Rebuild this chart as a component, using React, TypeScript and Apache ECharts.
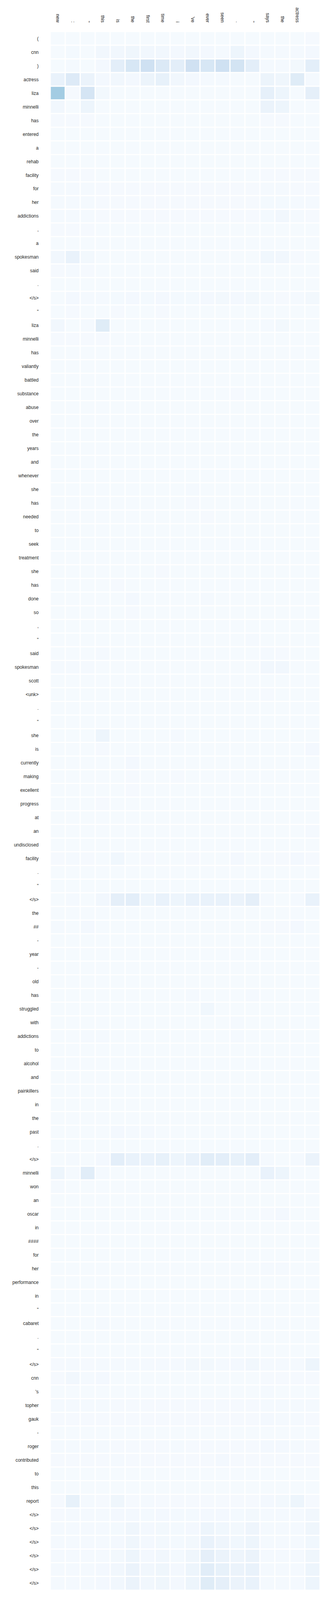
import React, { useEffect, useRef } from "react";
import * as echarts from "echarts";

// target tokens (columns, left to right)
const colLabels = [
  "new", ":", "\"", "this", "is", "the", "first", "time", "i", "'ve",
  "ever", "seen", ".", "\"", "says", "the", "actress", "",
];

// source tokens (rows, top to bottom)
const rowLabels = [
  "(", "cnn", ")", "actress", "liza", "minnelli", "has", "entered", "a", "rehab",
  "facility", "for", "her", "addictions", ",", "a", "spokesman", "said", ".", "</s>",
  "\"", "liza", "minnelli", "has", "valiantly", "battled", "substance", "abuse", "over", "the",
  "years", "and", "whenever", "she", "has", "needed", "to", "seek", "treatment", "she",
  "has", "done", "so", ",", "\"", "said", "spokesman", "scott", "<unk>", ".",
  "\"", "she", "is", "currently", "making", "excellent", "progress", "at", "an", "undisclosed",
  "facility", ".", "\"", "</s>", "the", "##", "-", "year", "-", "old",
  "has", "struggled", "with", "addictions", "to", "alcohol", "and", "painkillers", "in", "the",
  "past", ".", "</s>", "minnelli", "won", "an", "oscar", "in", "####", "for",
  "her", "performance", "in", "\"", "cabaret", ".", "\"", "</s>", "cnn", "'s",
  "topher", "gauk", "-", "roger", "contributed", "to", "this", "report", "</s>", "</s>",
  "</s>", "</s>", "</s>", "</s>",
];

// attention weights, per mille (row = source token, col = target token)
const weights: number[][] = [
  [10, 10, 10, 10, 10, 10, 10, 10, 10, 10, 10, 10, 10, 10, 10, 10, 10, 12],
  [10, 18, 10, 30, 32, 40, 30, 32, 22, 30, 20, 16, 50, 22, 16, 16, 16, 22],
  [10, 15, 10, 20, 100, 160, 205, 140, 100, 200, 160, 205, 180, 100, 15, 15, 25, 100],
  [70, 130, 60, 20, 30, 20, 55, 80, 30, 20, 15, 15, 10, 10, 55, 40, 120, 15],
  [360, 12, 170, 25, 10, 10, 10, 10, 10, 10, 10, 10, 10, 10, 85, 50, 10, 90],
  [30, 10, 50, 10, 10, 10, 10, 10, 10, 10, 10, 10, 10, 10, 60, 50, 10, 10],
  [12, 12, 12, 10, 10, 10, 10, 10, 10, 10, 10, 10, 10, 10, 12, 12, 10, 10],
  [10, 10, 10, 10, 10, 10, 10, 10, 10, 10, 10, 10, 10, 10, 10, 10, 10, 10],
  [10, 10, 10, 10, 10, 10, 10, 10, 10, 10, 10, 10, 10, 10, 10, 10, 10, 10],
  [10, 10, 10, 10, 10, 10, 10, 10, 10, 10, 10, 10, 10, 10, 10, 10, 10, 10],
  [12, 12, 12, 10, 10, 10, 10, 10, 10, 10, 10, 10, 10, 10, 12, 12, 12, 12],
  [14, 14, 14, 12, 12, 12, 12, 12, 12, 12, 12, 12, 12, 12, 14, 14, 12, 12],
  [15, 15, 15, 12, 12, 12, 12, 12, 12, 12, 12, 12, 12, 12, 18, 18, 14, 14],
  [15, 15, 15, 12, 12, 12, 12, 12, 12, 12, 12, 12, 12, 12, 18, 30, 15, 12],
  [12, 12, 12, 10, 10, 10, 10, 10, 10, 10, 10, 10, 10, 10, 10, 10, 10, 10],
  [10, 10, 10, 10, 10, 10, 10, 10, 10, 10, 10, 10, 10, 10, 10, 10, 10, 10],
  [30, 70, 25, 10, 10, 10, 10, 10, 10, 10, 10, 10, 10, 10, 35, 30, 12, 10],
  [12, 15, 12, 10, 10, 10, 10, 10, 10, 10, 10, 10, 10, 10, 10, 10, 10, 10],
  [10, 10, 10, 10, 10, 10, 10, 10, 10, 10, 10, 10, 10, 10, 10, 10, 10, 10],
  [10, 20, 15, 15, 18, 20, 18, 20, 18, 18, 20, 25, 20, 25, 15, 12, 15, 25],
  [10, 12, 10, 10, 12, 10, 10, 12, 10, 10, 10, 10, 10, 10, 10, 10, 10, 10],
  [30, 10, 15, 120, 10, 10, 10, 10, 10, 10, 10, 10, 10, 10, 15, 25, 10, 10],
  [12, 12, 12, 12, 10, 10, 10, 10, 10, 10, 10, 10, 10, 10, 10, 10, 10, 10],
  [10, 10, 10, 10, 10, 10, 10, 10, 10, 10, 10, 10, 10, 10, 10, 10, 10, 10],
  [10, 10, 10, 10, 10, 10, 10, 10, 10, 10, 10, 10, 10, 10, 10, 10, 10, 10],
  [10, 10, 10, 10, 10, 10, 10, 10, 10, 10, 10, 10, 10, 10, 10, 10, 10, 10],
  [10, 10, 10, 10, 10, 10, 10, 10, 10, 10, 10, 10, 12, 10, 10, 10, 10, 10],
  [10, 10, 10, 10, 10, 10, 10, 10, 10, 10, 10, 10, 10, 10, 10, 10, 10, 10],
  [10, 10, 10, 10, 10, 10, 10, 10, 10, 10, 10, 10, 10, 10, 10, 10, 10, 10],
  [10, 10, 10, 10, 10, 10, 10, 10, 10, 10, 10, 10, 10, 10, 10, 10, 10, 10],
  [10, 10, 10, 10, 10, 10, 10, 10, 10, 10, 10, 10, 10, 10, 10, 10, 10, 10],
  [10, 10, 10, 10, 10, 10, 10, 10, 10, 10, 10, 10, 10, 10, 10, 10, 10, 10],
  [10, 10, 10, 10, 10, 10, 10, 10, 10, 10, 10, 10, 10, 10, 10, 10, 10, 10],
  [10, 10, 10, 10, 10, 10, 10, 10, 10, 15, 10, 10, 10, 10, 10, 10, 10, 10],
  [10, 10, 10, 10, 10, 10, 10, 10, 10, 12, 10, 10, 10, 10, 10, 10, 10, 10],
  [10, 10, 10, 10, 10, 10, 10, 10, 10, 10, 12, 10, 10, 10, 10, 10, 10, 10],
  [10, 10, 10, 10, 10, 10, 10, 10, 10, 10, 10, 10, 10, 10, 10, 10, 10, 10],
  [10, 10, 10, 10, 10, 10, 10, 10, 10, 10, 10, 10, 10, 10, 10, 10, 10, 10],
  [10, 10, 10, 10, 10, 10, 10, 10, 10, 10, 10, 10, 10, 10, 10, 10, 10, 10],
  [10, 10, 10, 10, 10, 10, 10, 12, 10, 10, 10, 10, 10, 10, 10, 10, 10, 10],
  [10, 10, 10, 10, 12, 10, 10, 10, 10, 10, 10, 10, 10, 10, 10, 10, 10, 10],
  [10, 10, 10, 10, 10, 20, 10, 10, 10, 10, 15, 10, 10, 10, 10, 10, 10, 10],
  [10, 10, 10, 10, 10, 12, 10, 10, 10, 10, 10, 10, 10, 10, 10, 10, 10, 10],
  [10, 10, 10, 10, 10, 10, 10, 10, 10, 10, 10, 10, 10, 10, 10, 10, 10, 10],
  [10, 10, 10, 10, 10, 10, 10, 10, 10, 10, 10, 10, 10, 15, 10, 10, 10, 10],
  [10, 10, 10, 15, 10, 10, 10, 10, 10, 10, 10, 10, 10, 10, 15, 12, 10, 10],
  [15, 15, 15, 10, 10, 10, 10, 10, 10, 10, 10, 10, 10, 10, 30, 30, 10, 10],
  [10, 10, 10, 10, 10, 10, 10, 10, 10, 10, 10, 10, 10, 10, 10, 10, 10, 10],
  [10, 10, 10, 10, 10, 10, 10, 10, 10, 10, 10, 10, 10, 10, 12, 10, 10, 10],
  [10, 10, 10, 10, 10, 10, 10, 10, 10, 10, 10, 10, 10, 10, 10, 10, 10, 10],
  [10, 10, 10, 10, 10, 10, 10, 10, 10, 10, 10, 10, 10, 10, 10, 10, 10, 10],
  [10, 10, 10, 50, 10, 10, 10, 10, 15, 10, 10, 10, 10, 10, 10, 10, 10, 10],
  [10, 10, 10, 12, 10, 10, 10, 10, 10, 10, 10, 10, 10, 10, 10, 10, 10, 20],
  [10, 10, 10, 10, 10, 20, 10, 10, 10, 10, 10, 10, 10, 10, 10, 10, 10, 10],
  [10, 10, 10, 10, 10, 12, 10, 10, 12, 10, 10, 10, 10, 10, 10, 10, 10, 10],
  [10, 10, 10, 10, 10, 12, 10, 10, 10, 10, 10, 10, 10, 10, 10, 10, 10, 10],
  [10, 10, 10, 12, 10, 10, 10, 10, 10, 10, 10, 10, 10, 10, 10, 10, 10, 10],
  [10, 10, 10, 10, 10, 10, 10, 10, 10, 10, 10, 10, 10, 10, 10, 10, 10, 10],
  [10, 10, 10, 10, 10, 10, 10, 10, 10, 10, 10, 10, 10, 10, 10, 10, 10, 15],
  [10, 10, 10, 10, 10, 10, 10, 10, 10, 10, 10, 10, 10, 10, 10, 10, 10, 10],
  [12, 15, 12, 10, 35, 10, 12, 10, 10, 12, 10, 10, 20, 10, 12, 12, 20, 12],
  [10, 10, 10, 10, 10, 10, 10, 10, 10, 10, 10, 10, 10, 10, 10, 10, 10, 10],
  [10, 10, 10, 10, 10, 10, 10, 10, 10, 10, 10, 10, 10, 10, 10, 10, 10, 10],
  [10, 15, 10, 30, 90, 100, 50, 70, 50, 70, 70, 70, 60, 90, 15, 10, 15, 70],
  [10, 10, 10, 10, 10, 10, 10, 10, 10, 10, 10, 10, 10, 10, 10, 10, 10, 10],
  [15, 10, 20, 10, 10, 10, 10, 10, 10, 10, 10, 10, 10, 10, 12, 12, 20, 10],
  [10, 10, 10, 10, 10, 10, 10, 10, 10, 10, 10, 10, 10, 10, 10, 10, 10, 10],
  [10, 10, 10, 10, 10, 10, 10, 10, 10, 10, 10, 10, 10, 10, 10, 10, 10, 10],
  [10, 10, 10, 10, 10, 10, 10, 10, 10, 10, 10, 10, 10, 10, 10, 10, 10, 10],
  [10, 10, 10, 10, 10, 10, 10, 10, 10, 10, 10, 10, 10, 10, 10, 10, 10, 10],
  [10, 10, 10, 10, 10, 10, 10, 10, 10, 15, 10, 10, 10, 15, 10, 10, 10, 10],
  [10, 10, 10, 10, 10, 10, 10, 10, 10, 10, 35, 10, 10, 10, 10, 10, 10, 10],
  [10, 10, 10, 10, 10, 10, 10, 10, 10, 10, 10, 10, 15, 10, 10, 10, 10, 10],
  [10, 10, 15, 15, 10, 10, 10, 10, 10, 10, 10, 10, 15, 10, 10, 10, 10, 10],
  [10, 10, 10, 10, 10, 10, 10, 10, 10, 10, 10, 10, 10, 10, 10, 10, 10, 10],
  [10, 10, 10, 10, 10, 10, 10, 10, 10, 10, 10, 10, 10, 10, 10, 10, 10, 10],
  [10, 10, 10, 10, 10, 10, 10, 10, 10, 10, 10, 10, 10, 10, 10, 10, 10, 10],
  [10, 10, 10, 10, 10, 10, 10, 10, 10, 10, 10, 10, 10, 10, 10, 10, 10, 10],
  [10, 10, 10, 10, 10, 10, 10, 10, 10, 10, 10, 10, 10, 10, 10, 10, 10, 10],
  [10, 10, 10, 10, 10, 10, 10, 10, 10, 10, 10, 10, 10, 10, 10, 10, 10, 10],
  [10, 10, 10, 10, 20, 15, 15, 10, 10, 10, 10, 10, 10, 10, 10, 10, 10, 10],
  [10, 10, 10, 10, 10, 10, 10, 10, 10, 10, 10, 10, 10, 10, 10, 10, 10, 10],
  [10, 15, 10, 20, 100, 70, 70, 80, 50, 70, 110, 100, 80, 100, 15, 10, 15, 60],
  [50, 15, 110, 15, 10, 10, 10, 10, 10, 10, 10, 10, 10, 10, 70, 50, 10, 10],
  [15, 10, 10, 10, 10, 10, 10, 10, 10, 10, 10, 10, 10, 10, 10, 10, 10, 10],
  [10, 10, 10, 10, 10, 10, 10, 10, 10, 10, 10, 10, 10, 10, 10, 10, 10, 10],
  [10, 10, 10, 10, 10, 10, 10, 10, 10, 10, 10, 10, 10, 10, 12, 20, 10, 10],
  [10, 10, 10, 10, 10, 10, 10, 10, 10, 10, 10, 10, 10, 10, 10, 10, 10, 10],
  [10, 10, 10, 10, 10, 10, 10, 10, 10, 10, 10, 10, 10, 10, 10, 10, 10, 10],
  [10, 10, 10, 10, 10, 10, 10, 10, 10, 10, 10, 10, 10, 10, 10, 10, 10, 10],
  [10, 10, 10, 10, 10, 10, 10, 10, 10, 10, 10, 10, 10, 10, 15, 15, 10, 10],
  [10, 10, 10, 10, 10, 10, 10, 10, 10, 10, 10, 10, 10, 10, 10, 10, 10, 10],
  [10, 10, 10, 10, 10, 10, 10, 10, 10, 10, 10, 10, 10, 10, 10, 10, 10, 10],
  [10, 10, 10, 10, 10, 10, 10, 10, 10, 10, 10, 10, 10, 10, 10, 10, 10, 10],
  [10, 10, 10, 15, 10, 10, 10, 10, 10, 10, 10, 10, 10, 10, 10, 10, 10, 10],
  [10, 10, 10, 10, 10, 10, 10, 10, 10, 10, 10, 10, 10, 10, 10, 10, 10, 10],
  [10, 10, 10, 10, 10, 10, 10, 10, 10, 10, 10, 10, 10, 10, 10, 10, 10, 10],
  [12, 15, 12, 15, 15, 15, 15, 15, 15, 25, 25, 15, 20, 30, 15, 15, 15, 50],
  [12, 30, 15, 20, 10, 10, 10, 10, 10, 10, 10, 10, 10, 10, 12, 12, 12, 12],
  [10, 10, 10, 10, 10, 10, 10, 10, 10, 10, 10, 10, 10, 10, 15, 10, 10, 10],
  [15, 15, 15, 15, 12, 12, 12, 12, 12, 12, 12, 12, 12, 12, 15, 15, 15, 15],
  [12, 12, 12, 12, 12, 12, 12, 12, 12, 12, 12, 12, 12, 12, 20, 15, 15, 12],
  [10, 10, 10, 10, 10, 10, 10, 10, 10, 10, 10, 10, 10, 10, 10, 10, 10, 10],
  [15, 15, 15, 15, 12, 12, 12, 12, 15, 12, 12, 12, 12, 12, 20, 20, 15, 12],
  [12, 12, 12, 12, 15, 12, 12, 12, 12, 12, 12, 20, 12, 12, 12, 12, 12, 12],
  [10, 10, 10, 10, 10, 10, 10, 10, 10, 10, 10, 10, 10, 10, 10, 10, 10, 10],
  [10, 10, 10, 10, 10, 10, 10, 10, 10, 10, 10, 10, 10, 10, 10, 10, 10, 10],
  [12, 80, 15, 12, 40, 12, 15, 12, 12, 12, 12, 12, 12, 12, 20, 25, 50, 12],
  [12, 15, 15, 15, 20, 20, 18, 20, 18, 18, 20, 20, 18, 25, 15, 15, 15, 30],
  [15, 15, 15, 15, 18, 40, 20, 25, 18, 20, 50, 35, 25, 45, 15, 15, 15, 40],
  [15, 15, 15, 15, 20, 40, 20, 25, 18, 25, 70, 45, 35, 50, 15, 15, 15, 35],
  [15, 15, 15, 15, 25, 50, 22, 30, 18, 40, 90, 60, 45, 60, 15, 15, 15, 40],
  [15, 15, 15, 20, 30, 60, 30, 40, 20, 50, 110, 80, 60, 70, 15, 15, 15, 50],
  [15, 15, 15, 20, 30, 60, 30, 40, 20, 50, 120, 90, 60, 70, 15, 15, 15, 50],
];

// matplotlib "Blues"
const blues = [
  "#f7fbff", "#deebf7", "#c6dbef", "#9ecae1", "#6baed6",
  "#4292c6", "#2171b5", "#08519c", "#08306b",
];

const App: React.FC = () => {
  const chartRef = useRef<HTMLDivElement>(null);

  useEffect(() => {
    if (!chartRef.current) return;
    const chart = echarts.init(chartRef.current, undefined, { renderer: "svg" });
    // the layout was measured on a 4928px tall page; keep its proportions
    // if the visible page is shorter
    const s = chartRef.current.clientHeight / 4928;

    const cells: [number, number, number][] = [];
    weights.forEach((row, r) => row.forEach((v, c) => cells.push([c, r, v])));

    const labelFont = {
      fontFamily: "Liberation Sans, Arial, sans-serif",
      fontSize: 12,
      color: "#262626",
    };

    chart.setOption({
      animation: false,
      backgroundColor: "#ffffff",
      grid: { left: 129, top: 97.5 * s, width: 691, height: 4800 * s },
      xAxis: {
        type: "category",
        position: "top",
        data: colLabels,
        axisLine: { show: false },
        axisTick: { show: false },
        splitLine: { show: false },
        axisLabel: { ...labelFont, rotate: 90, interval: 0, margin: 28 * s, padding: [8, 0, 0, 0] },
      },
      yAxis: {
        type: "category",
        inverse: true,
        data: rowLabels,
        axisLine: { show: false },
        axisTick: { show: false },
        splitLine: { show: false },
        axisLabel: { ...labelFont, interval: 0, margin: 30 },
      },
      visualMap: {
        show: false,
        type: "continuous",
        min: 0,
        max: 1000,
        inRange: { color: blues },
      },
      series: [
        {
          type: "heatmap",
          data: cells,
          itemStyle: { borderColor: "#ffffff", borderWidth: 3 },
          emphasis: { disabled: true },
          label: { show: false },
        },
      ],
    });

    return () => chart.dispose();
  }, []);

  return (
    <div
      ref={chartRef}
      style={{ position: "fixed", left: 0, top: 0, width: "100vw", height: "100vh" }}
    />
  );
};

export default App;
